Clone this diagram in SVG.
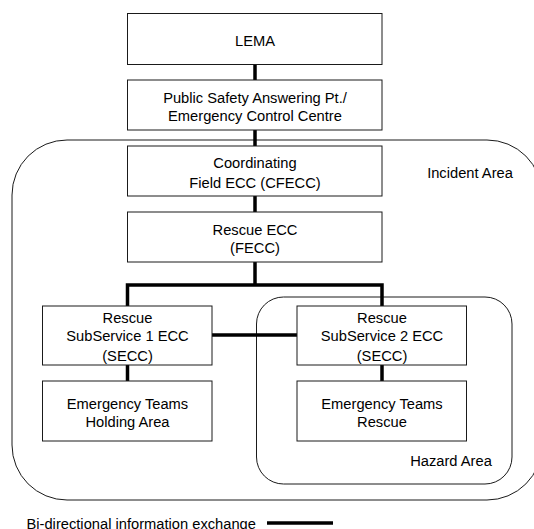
<svg xmlns="http://www.w3.org/2000/svg" width="534" height="529" viewBox="0 0 534 529">
<style>
.box{fill:#fff;stroke:#1a1a1a;stroke-width:1}
.area{fill:none;stroke:#1a1a1a;stroke-width:1}
.conn{fill:none;stroke:#000;stroke-width:3.5}
text{font-family:"Liberation Sans",Arial,sans-serif;font-size:14.7px;fill:#000;text-anchor:middle}
</style>
<rect width="534" height="529" fill="#fff"/>
<g id="incident-area">
<rect class="area" x="12" y="140" width="530" height="360" rx="55" ry="55"/>
<text x="470" y="178">Incident Area</text>
</g>
<g id="hazard-area">
<rect class="area" x="256.5" y="297" width="255.5" height="187" rx="27" ry="27"/>
<text x="451" y="466">Hazard Area</text>
</g>
<g id="connectors">
<line class="conn" x1="255" y1="64" x2="255" y2="80"/>
<line class="conn" x1="255" y1="130" x2="255" y2="146"/>
<line class="conn" x1="255" y1="196" x2="255" y2="212"/>
<polyline class="conn" points="255,262 255,285"/>
<polyline class="conn" points="127.5,306 127.5,285 382,285 382,306"/>
<line class="conn" x1="212" y1="335" x2="297" y2="335"/>
<line class="conn" x1="127.5" y1="365" x2="127.5" y2="381"/>
<line class="conn" x1="382" y1="365" x2="382" y2="381"/>
</g>
<g id="lema">
<rect class="box" x="127.5" y="13.5" width="254.5" height="51"/>
<text x="255" y="46">LEMA</text>
</g>
<g id="psap">
<rect class="box" x="127.5" y="80" width="254.5" height="50"/>
<text x="255" y="103">Public Safety Answering Pt./</text>
<text x="255" y="120.5">Emergency Control Centre</text>
</g>
<g id="cfecc">
<rect class="box" x="127.5" y="146" width="254.5" height="50"/>
<text x="255" y="168">Coordinating</text>
<text x="255" y="188">Field ECC (CFECC)</text>
</g>
<g id="fecc">
<rect class="box" x="127.5" y="212" width="254.5" height="50"/>
<text x="255" y="235">Rescue ECC</text>
<text x="255" y="253">(FECC)</text>
</g>
<g id="secc1">
<rect class="box" x="42.5" y="306" width="169.5" height="59"/>
<text x="127.5" y="323">Rescue</text>
<text x="127.5" y="341">SubService 1 ECC</text>
<text x="127.5" y="360.5">(SECC)</text>
</g>
<g id="secc2">
<rect class="box" x="297" y="306" width="169.5" height="59"/>
<text x="382" y="323">Rescue</text>
<text x="382" y="341">SubService 2 ECC</text>
<text x="382" y="360.5">(SECC)</text>
</g>
<g id="teams-holding">
<rect class="box" x="42.5" y="381" width="169.5" height="60"/>
<text x="127.5" y="409">Emergency Teams</text>
<text x="127.5" y="426.5">Holding Area</text>
</g>
<g id="teams-rescue">
<rect class="box" x="297" y="381" width="169.5" height="60"/>
<text x="382" y="409">Emergency Teams</text>
<text x="382" y="426.5">Rescue</text>
</g>
<g id="legend">
<text x="26.5" y="528.5" style="text-anchor:start">Bi-directional information exchange</text>
<line class="conn" x1="267" y1="523" x2="333" y2="523"/>
</g>
</svg>
